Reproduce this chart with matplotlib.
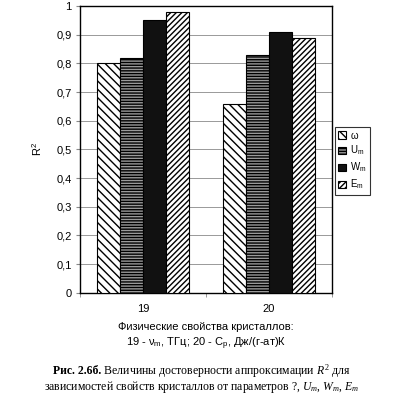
import matplotlib.pyplot as plt
import numpy as np
from matplotlib.ticker import FuncFormatter, FixedLocator

plt.rcParams['font.family'] = ['Liberation Sans', 'DejaVu Sans']
plt.rcParams['hatch.linewidth'] = 1.0
plt.rcParams['mathtext.fontset'] = 'custom'
plt.rcParams['mathtext.rm'] = 'Liberation Sans'
plt.rcParams['mathtext.it'] = 'Liberation Serif:italic'

groups = ['19', '20']
series = ['ω', 'U$_\\mathregular{m}$', 'W$_\\mathregular{m}$', 'E$_\\mathregular{m}$']
values = [
    [0.80, 0.66],   # omega
    [0.82, 0.83],   # U_m
    [0.95, 0.91],   # W_m
    [0.98, 0.89],   # E_m
]
faces = ['white', '#9a9a9a', '#111111', 'white']
hatches = ['\\\\\\\\', '------', None, '//////']
hatch_cols = ['black', 'black', 'black', 'black']

fig = plt.figure(figsize=(4.04, 3.99), dpi=100)
ax = fig.add_axes([0.198, 0.266, 0.624, 0.719])

x = np.arange(len(groups))
w = 0.183
for i, (vals, fc, h, hc) in enumerate(zip(values, faces, hatches, hatch_cols)):
    ax.bar(x + (i - 1.5) * w, vals, w, facecolor=fc, edgecolor=hc,
           hatch=h, linewidth=0.8, label=series[i], zorder=3)

ax.set_xlim(-0.5, 1.5)
ax.set_ylim(0, 1)
ax.yaxis.set_major_locator(FixedLocator(np.arange(0, 1.01, 0.1)))
ax.yaxis.set_major_formatter(FuncFormatter(
    lambda v, p: '0' if abs(v) < 1e-9 else ('1' if abs(v - 1) < 1e-9 else f'{v:.1f}'.replace('.', ','))))
ax.grid(axis='y', color='#999999', linewidth=0.7, zorder=0)
ax.set_xticks(x)
ax.set_xticklabels(groups)
ax.tick_params(axis='x', length=0, labelsize=8, pad=8)
ax.set_xticks([-0.5, 0.5, 1.5], minor=True)
ax.tick_params(axis='x', which='minor', length=3, direction='out', color='#888888')
ax.tick_params(axis='y', labelsize=8, length=3, direction='out', color='#888888', pad=3)
for s in ax.spines.values():
    s.set_linewidth(1.0)
    s.set_color('black')

ax.set_ylabel('R$^\\mathregular{2}$', fontsize=8, labelpad=9)
ax.set_xlabel('Физические свойства кристаллов:\n19 - ν$_\\mathregular{m}$, ТГц; 20 - C$_\\mathregular{p}$, Дж/(г-ат)К',
              fontsize=8, labelpad=6, linespacing=1.3)

leg = ax.legend(loc='center left', bbox_to_anchor=(1.01, 0.46), fontsize=7,
                handlelength=0.8, handleheight=0.8, handletextpad=0.4,
                frameon=True, fancybox=False, edgecolor='black',
                borderpad=0.4, labelspacing=0.35, borderaxespad=0)
leg.get_frame().set_linewidth(0.8)

# caption, first line: bold label + regular text, centred together
renderer = fig.canvas.get_renderer()
t1 = fig.text(0, 0.070, 'Рис. 2.6б.', fontsize=8.5, fontweight='bold', ha='left', va='center',
              family=['Liberation Serif'])
t2 = fig.text(0, 0.070, ' Величины достоверности аппроксимации $R^\\mathregular{2}$ для', fontsize=8.5,
              ha='left', va='center', family=['Liberation Serif'])
w1 = t1.get_window_extent(renderer).width
w2 = t2.get_window_extent(renderer).width
W = fig.bbox.width
x0 = (W - w1 - w2) / 2
t1.set_x(x0 / W)
t2.set_x((x0 + w1) / W)
fig.text(0.5, 0.030, 'зависимостей свойств кристаллов от параметров ?, $U_m$, $W_m$, $E_m$',
         fontsize=8.5, ha='center', va='center', family=['Liberation Serif'])

fig.savefig('out.png', dpi=100)
